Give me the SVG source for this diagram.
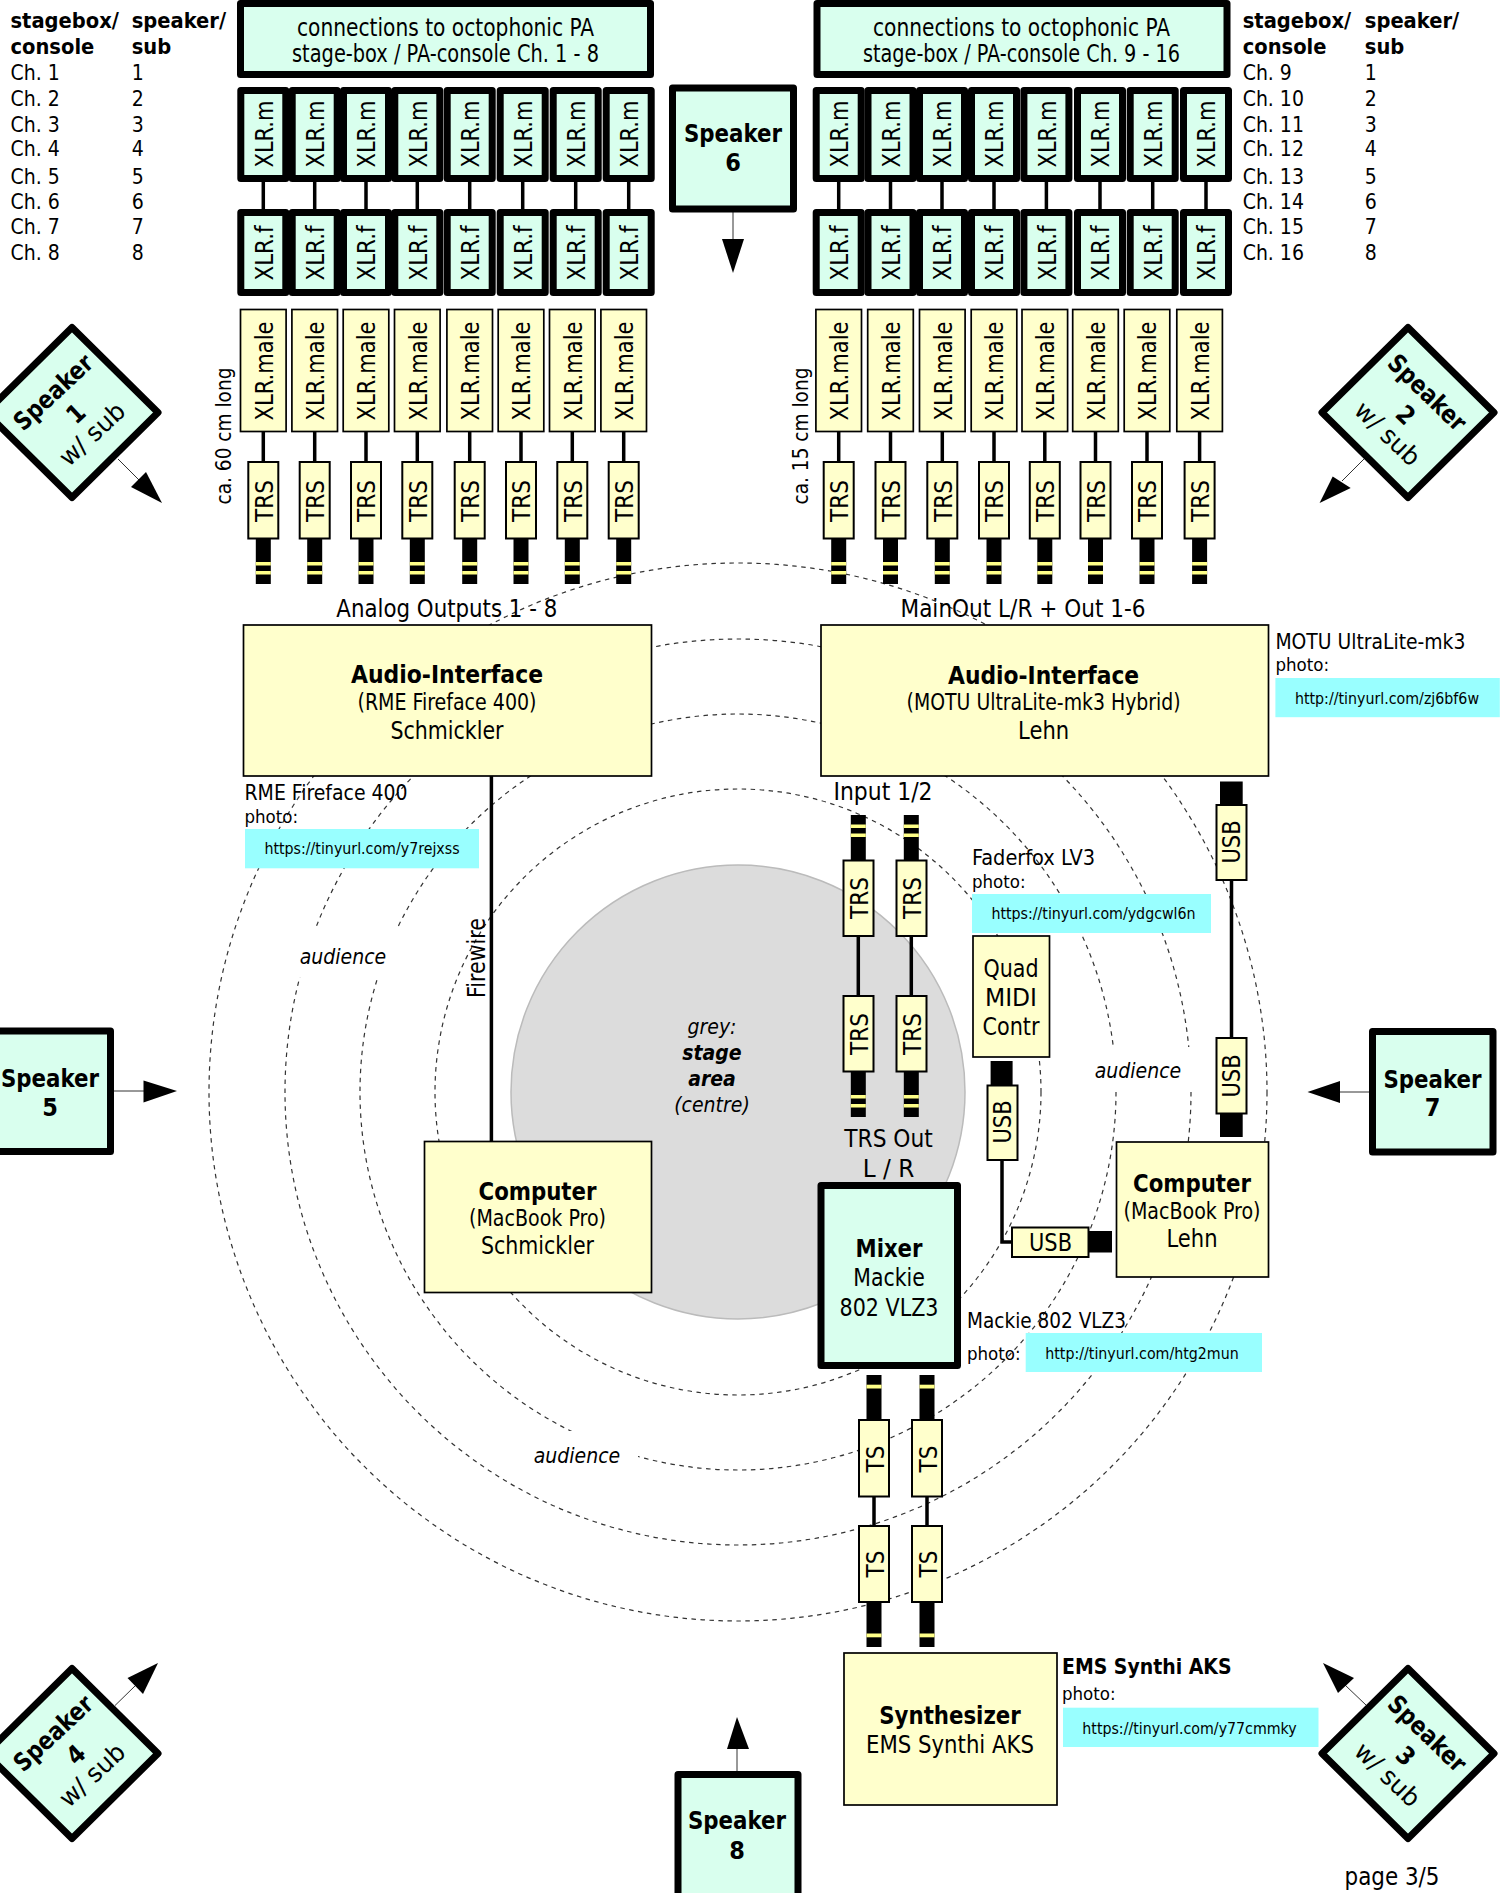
<svg xmlns="http://www.w3.org/2000/svg" width="1500" height="1893" viewBox="0 0 1500 1893">
<style>
text{font-family:"DejaVu Sans Condensed","DejaVu Sans",sans-serif;font-stretch:condensed;font-size:25px;fill:#000;lengthAdjust:spacingAndGlyphs}
.m{text-anchor:middle}
.b{font-weight:bold}
.i{font-style:italic}
.s{font-size:21px}
.sb{font-size:21.7px;font-weight:bold}
.q{font-size:23px}
.a2{font-size:21px;font-style:italic;text-anchor:middle}
.p{font-size:18.5px}
.u{font-size:15.8px;text-anchor:middle}
.k{fill:#D9FFEE;stroke:#000;stroke-width:7;stroke-linejoin:round}
.y{fill:#FFFFCC;stroke:#000;stroke-width:1.7}
.z{fill:#FFFFCC;stroke:#000;stroke-width:2}
.c{fill:#99FFFF}
.w{stroke:#000;stroke-width:3.5;fill:none}
.r{fill:none;stroke:#333;stroke-width:1.2;stroke-dasharray:4.5 4.5}
.a{stroke:#333;stroke-width:1;fill:none}
</style>
<defs>
<g id="trs"><rect x="-7.500" y="0" width="15" height="45" fill="#000"/><rect x="-7.500" y="23" width="15" height="3.500" fill="#FFFF88"/><rect x="-7.500" y="32" width="15" height="3.500" fill="#FFFF88"/></g>
<g id="ts"><rect x="-7.500" y="0" width="15" height="45" fill="#000"/><rect x="-7.500" y="31.500" width="15" height="3.800" fill="#FFFF88"/></g>
</defs>
<rect width="1500" height="1893" fill="#fff"/>
<g id="stage">
<circle cx="738" cy="1092" r="227" fill="#DCDCDC" stroke="#BBBBBB" stroke-width="1.5"/>
<circle class="r" cx="738" cy="1092" r="303"/>
<circle class="r" cx="738" cy="1092" r="378"/>
<circle class="r" cx="738" cy="1092" r="453"/>
<circle class="r" cx="738" cy="1092" r="529"/>
<rect x="295" y="929" width="105" height="48" fill="#fff"/>
<rect x="1110" y="1047" width="87" height="45" fill="#fff"/>
<rect x="525" y="1431" width="113" height="49" fill="#fff"/>
<text class="a2" x="343" y="964">audience</text>
<text class="a2" x="1138" y="1078">audience</text>
<text class="a2" x="577" y="1463">audience</text>
<text class="i m s" x="712" y="1034">grey:</text>
<text class="i b m s" x="712" y="1060">stage</text>
<text class="i b m s" x="712" y="1086">area</text>
<text class="i m s" x="712" y="1112">(centre)</text>
</g>
<g id="connectors">
<path class="w" d="M263.300 182V209M314.700 182V209M366 182V209M417.300 182V209M469.700 182V209M522.700 182V209M575.700 182V209M628.700 182V209"/>
<path class="w" d="M838.700 182V209M890.500 182V209M942 182V209M994 182V209M1046.400 182V209M1100 182V209M1152.700 182V209M1206 182V209"/>
<path class="w" d="M263.300 432V462M314.700 432V462M366 432V462M417.300 432V462M469.700 432V462M521 432V462M572.300 432V462M623.700 432V462"/>
<path class="w" d="M838.700 432V462M890.500 432V462M942.300 432V462M994 432V462M1044.800 432V462M1095.500 432V462M1147 432V462M1199.600 432V462"/>
<path class="w" d="M491.400 776V1141"/>
<path class="w" d="M858.300 936V996M911.300 936V996"/>
<path class="w" d="M1002 1160V1242H1012"/>
<path class="w" d="M1231.500 880V1038"/>
<path class="w" d="M874 1497V1526M927 1497V1526"/>
<g id="plugs">
<use href="#trs" x="263.300" y="539"/><use href="#trs" x="314.700" y="539"/><use href="#trs" x="366" y="539"/><use href="#trs" x="417.300" y="539"/><use href="#trs" x="469.700" y="539"/><use href="#trs" x="521" y="539"/><use href="#trs" x="572.300" y="539"/><use href="#trs" x="623.700" y="539"/>
<use href="#trs" x="838.700" y="539"/><use href="#trs" x="890.500" y="539"/><use href="#trs" x="942.300" y="539"/><use href="#trs" x="994" y="539"/><use href="#trs" x="1044.800" y="539"/><use href="#trs" x="1095.500" y="539"/><use href="#trs" x="1147" y="539"/><use href="#trs" x="1199.600" y="539"/>
<use href="#trs" transform="translate(858.300 860) scale(1 -1)"/><use href="#trs" transform="translate(911.300 860) scale(1 -1)"/>
<use href="#trs" x="858.300" y="1072"/><use href="#trs" x="911.300" y="1072"/>
<use href="#ts" transform="translate(874 1420) scale(1 -1)"/><use href="#ts" transform="translate(927 1420) scale(1 -1)"/>
<use href="#ts" x="874" y="1602"/><use href="#ts" x="927" y="1602"/>
<rect x="990.600" y="1061" width="22" height="25" fill="#000"/>
<rect x="1088" y="1231" width="24" height="21.500" fill="#000"/>
<rect x="1220" y="781.500" width="22.700" height="24" fill="#000"/>
<rect x="1220" y="1113" width="22.700" height="24" fill="#000"/>
</g>
<path class="a" d="M118 459L140 481M733 212V240M114 1091H144M1369 1092H1340M1364 459L1342 481M1366.500 1705.500L1345 1685M115 1705.500L136 1685M737 1771V1749"/>
<path d="M162 503L146 472L131 487Z"/>
<path d="M733 273L722 239H744Z"/>
<path d="M177 1091L143.500 1080.500V1102.500Z"/>
<path d="M1307.500 1092L1340 1081V1103Z"/>
<path d="M1319.600 503L1332.700 476.500L1350.700 488Z"/>
<path d="M1323 1663L1354 1678L1338 1693Z"/>
<path d="M158 1663L127.500 1678L143 1694Z"/>
<path d="M737 1717L727 1749H749Z"/>
</g>
<g id="top-left"><rect class="k" x="240.500" y="3.500" width="410" height="71"/><text class="m" x="445.500" y="35.500" textLength="297" lengthAdjust="spacingAndGlyphs">connections to octophonic PA</text><text class="m" x="445.500" y="61.500" textLength="307" lengthAdjust="spacingAndGlyphs">stage-box / PA-console Ch. 1 - 8</text></g>
<g id="top-right"><rect class="k" x="817" y="3.500" width="410" height="71"/><text class="m" x="1021.500" y="35.500" textLength="297" lengthAdjust="spacingAndGlyphs">connections to octophonic PA</text><text class="m" x="1021.500" y="61.500" textLength="317" lengthAdjust="spacingAndGlyphs">stage-box / PA-console Ch. 9 - 16</text></g>
<g id="table-left">
<text class="sb" x="10.500" y="27.500">stagebox/</text><text class="sb" x="10.500" y="53.500">console</text>
<text class="s" x="10.500" y="79.500">Ch. 1</text><text class="s" x="10.500" y="105.500">Ch. 2</text><text class="s" x="10.500" y="131.500">Ch. 3</text><text class="s" x="10.500" y="156">Ch. 4</text><text class="s" x="10.500" y="183.500">Ch. 5</text><text class="s" x="10.500" y="208.500">Ch. 6</text><text class="s" x="10.500" y="234">Ch. 7</text><text class="s" x="10.500" y="260">Ch. 8</text>
<text class="sb" x="131.700" y="27.500">speaker/</text><text class="sb" x="131.700" y="53.500">sub</text>
<text class="s" x="131.700" y="79.500">1</text><text class="s" x="131.700" y="105.500">2</text><text class="s" x="131.700" y="131.500">3</text><text class="s" x="131.700" y="156">4</text><text class="s" x="131.700" y="183.500">5</text><text class="s" x="131.700" y="208.500">6</text><text class="s" x="131.700" y="234">7</text><text class="s" x="131.700" y="260">8</text>
</g>
<g id="table-right">
<text class="sb" x="1242.700" y="27.500">stagebox/</text><text class="sb" x="1242.700" y="53.500">console</text>
<text class="s" x="1242.700" y="79.500">Ch. 9</text><text class="s" x="1242.700" y="105.500">Ch. 10</text><text class="s" x="1242.700" y="131.500">Ch. 11</text><text class="s" x="1242.700" y="156">Ch. 12</text><text class="s" x="1242.700" y="183.500">Ch. 13</text><text class="s" x="1242.700" y="208.500">Ch. 14</text><text class="s" x="1242.700" y="234">Ch. 15</text><text class="s" x="1242.700" y="260">Ch. 16</text>
<text class="sb" x="1364.800" y="27.500">speaker/</text><text class="sb" x="1364.800" y="53.500">sub</text>
<text class="s" x="1364.800" y="79.500">1</text><text class="s" x="1364.800" y="105.500">2</text><text class="s" x="1364.800" y="131.500">3</text><text class="s" x="1364.800" y="156">4</text><text class="s" x="1364.800" y="183.500">5</text><text class="s" x="1364.800" y="208.500">6</text><text class="s" x="1364.800" y="234">7</text><text class="s" x="1364.800" y="260">8</text>
</g>
<g id="xlr-m-left">
<rect class="k" x="240.800" y="90.500" width="45" height="88"/><text class="m" textLength="67" lengthAdjust="spacingAndGlyphs" transform="translate(272.500 134) rotate(-90)">XLR.m</text>
<rect class="k" x="292.200" y="90.500" width="45" height="88"/><text class="m" textLength="67" lengthAdjust="spacingAndGlyphs" transform="translate(323.900 134) rotate(-90)">XLR.m</text>
<rect class="k" x="343.500" y="90.500" width="45" height="88"/><text class="m" textLength="67" lengthAdjust="spacingAndGlyphs" transform="translate(375.200 134) rotate(-90)">XLR.m</text>
<rect class="k" x="394.800" y="90.500" width="45" height="88"/><text class="m" textLength="67" lengthAdjust="spacingAndGlyphs" transform="translate(426.500 134) rotate(-90)">XLR.m</text>
<rect class="k" x="447.200" y="90.500" width="45" height="88"/><text class="m" textLength="67" lengthAdjust="spacingAndGlyphs" transform="translate(479 134) rotate(-90)">XLR.m</text>
<rect class="k" x="500.200" y="90.500" width="45" height="88"/><text class="m" textLength="67" lengthAdjust="spacingAndGlyphs" transform="translate(532 134) rotate(-90)">XLR.m</text>
<rect class="k" x="553.200" y="90.500" width="45" height="88"/><text class="m" textLength="67" lengthAdjust="spacingAndGlyphs" transform="translate(585 134) rotate(-90)">XLR.m</text>
<rect class="k" x="606.200" y="90.500" width="45" height="88"/><text class="m" textLength="67" lengthAdjust="spacingAndGlyphs" transform="translate(638 134) rotate(-90)">XLR.m</text>
</g>
<g id="xlr-f-left">
<rect class="k" x="240.800" y="212.500" width="45" height="80"/><text class="m" textLength="55" lengthAdjust="spacingAndGlyphs" transform="translate(272.500 253) rotate(-90)">XLR.f</text>
<rect class="k" x="292.200" y="212.500" width="45" height="80"/><text class="m" textLength="55" lengthAdjust="spacingAndGlyphs" transform="translate(323.900 253) rotate(-90)">XLR.f</text>
<rect class="k" x="343.500" y="212.500" width="45" height="80"/><text class="m" textLength="55" lengthAdjust="spacingAndGlyphs" transform="translate(375.200 253) rotate(-90)">XLR.f</text>
<rect class="k" x="394.800" y="212.500" width="45" height="80"/><text class="m" textLength="55" lengthAdjust="spacingAndGlyphs" transform="translate(426.500 253) rotate(-90)">XLR.f</text>
<rect class="k" x="447.200" y="212.500" width="45" height="80"/><text class="m" textLength="55" lengthAdjust="spacingAndGlyphs" transform="translate(479 253) rotate(-90)">XLR.f</text>
<rect class="k" x="500.200" y="212.500" width="45" height="80"/><text class="m" textLength="55" lengthAdjust="spacingAndGlyphs" transform="translate(532 253) rotate(-90)">XLR.f</text>
<rect class="k" x="553.200" y="212.500" width="45" height="80"/><text class="m" textLength="55" lengthAdjust="spacingAndGlyphs" transform="translate(585 253) rotate(-90)">XLR.f</text>
<rect class="k" x="606.200" y="212.500" width="45" height="80"/><text class="m" textLength="55" lengthAdjust="spacingAndGlyphs" transform="translate(638 253) rotate(-90)">XLR.f</text>
</g>
<g id="xlr-m-right">
<rect class="k" x="816.200" y="90.500" width="45" height="88"/><text class="m" textLength="67" lengthAdjust="spacingAndGlyphs" transform="translate(848 134) rotate(-90)">XLR.m</text>
<rect class="k" x="868" y="90.500" width="45" height="88"/><text class="m" textLength="67" lengthAdjust="spacingAndGlyphs" transform="translate(899.800 134) rotate(-90)">XLR.m</text>
<rect class="k" x="919.500" y="90.500" width="45" height="88"/><text class="m" textLength="67" lengthAdjust="spacingAndGlyphs" transform="translate(951.300 134) rotate(-90)">XLR.m</text>
<rect class="k" x="971.500" y="90.500" width="45" height="88"/><text class="m" textLength="67" lengthAdjust="spacingAndGlyphs" transform="translate(1003.300 134) rotate(-90)">XLR.m</text>
<rect class="k" x="1023.900" y="90.500" width="45" height="88"/><text class="m" textLength="67" lengthAdjust="spacingAndGlyphs" transform="translate(1055.700 134) rotate(-90)">XLR.m</text>
<rect class="k" x="1077.500" y="90.500" width="45" height="88"/><text class="m" textLength="67" lengthAdjust="spacingAndGlyphs" transform="translate(1109.300 134) rotate(-90)">XLR.m</text>
<rect class="k" x="1130.200" y="90.500" width="45" height="88"/><text class="m" textLength="67" lengthAdjust="spacingAndGlyphs" transform="translate(1162 134) rotate(-90)">XLR.m</text>
<rect class="k" x="1183.500" y="90.500" width="45" height="88"/><text class="m" textLength="67" lengthAdjust="spacingAndGlyphs" transform="translate(1215.300 134) rotate(-90)">XLR.m</text>
</g>
<g id="xlr-f-right">
<rect class="k" x="816.200" y="212.500" width="45" height="80"/><text class="m" textLength="55" lengthAdjust="spacingAndGlyphs" transform="translate(848 253) rotate(-90)">XLR.f</text>
<rect class="k" x="868" y="212.500" width="45" height="80"/><text class="m" textLength="55" lengthAdjust="spacingAndGlyphs" transform="translate(899.800 253) rotate(-90)">XLR.f</text>
<rect class="k" x="919.500" y="212.500" width="45" height="80"/><text class="m" textLength="55" lengthAdjust="spacingAndGlyphs" transform="translate(951.300 253) rotate(-90)">XLR.f</text>
<rect class="k" x="971.500" y="212.500" width="45" height="80"/><text class="m" textLength="55" lengthAdjust="spacingAndGlyphs" transform="translate(1003.300 253) rotate(-90)">XLR.f</text>
<rect class="k" x="1023.900" y="212.500" width="45" height="80"/><text class="m" textLength="55" lengthAdjust="spacingAndGlyphs" transform="translate(1055.700 253) rotate(-90)">XLR.f</text>
<rect class="k" x="1077.500" y="212.500" width="45" height="80"/><text class="m" textLength="55" lengthAdjust="spacingAndGlyphs" transform="translate(1109.300 253) rotate(-90)">XLR.f</text>
<rect class="k" x="1130.200" y="212.500" width="45" height="80"/><text class="m" textLength="55" lengthAdjust="spacingAndGlyphs" transform="translate(1162 253) rotate(-90)">XLR.f</text>
<rect class="k" x="1183.500" y="212.500" width="45" height="80"/><text class="m" textLength="55" lengthAdjust="spacingAndGlyphs" transform="translate(1215.300 253) rotate(-90)">XLR.f</text>
</g>
<g id="male-left">
<rect class="y" x="240.500" y="309.500" width="45.600" height="122"/><text class="m" textLength="99" lengthAdjust="spacingAndGlyphs" transform="translate(272.500 371) rotate(-90)">XLR.male</text>
<rect class="y" x="291.900" y="309.500" width="45.600" height="122"/><text class="m" textLength="99" lengthAdjust="spacingAndGlyphs" transform="translate(323.900 371) rotate(-90)">XLR.male</text>
<rect class="y" x="343.200" y="309.500" width="45.600" height="122"/><text class="m" textLength="99" lengthAdjust="spacingAndGlyphs" transform="translate(375.200 371) rotate(-90)">XLR.male</text>
<rect class="y" x="394.500" y="309.500" width="45.600" height="122"/><text class="m" textLength="99" lengthAdjust="spacingAndGlyphs" transform="translate(426.500 371) rotate(-90)">XLR.male</text>
<rect class="y" x="446.900" y="309.500" width="45.600" height="122"/><text class="m" textLength="99" lengthAdjust="spacingAndGlyphs" transform="translate(479 371) rotate(-90)">XLR.male</text>
<rect class="y" x="498.200" y="309.500" width="45.600" height="122"/><text class="m" textLength="99" lengthAdjust="spacingAndGlyphs" transform="translate(530.300 371) rotate(-90)">XLR.male</text>
<rect class="y" x="549.500" y="309.500" width="45.600" height="122"/><text class="m" textLength="99" lengthAdjust="spacingAndGlyphs" transform="translate(581.600 371) rotate(-90)">XLR.male</text>
<rect class="y" x="600.900" y="309.500" width="45.600" height="122"/><text class="m" textLength="99" lengthAdjust="spacingAndGlyphs" transform="translate(633 371) rotate(-90)">XLR.male</text>
</g>
<g id="trs-left">
<rect class="z" x="248.300" y="462" width="30" height="76.500"/><text class="m" textLength="42" lengthAdjust="spacingAndGlyphs" transform="translate(272.500 501) rotate(-90)">TRS</text>
<rect class="z" x="299.700" y="462" width="30" height="76.500"/><text class="m" textLength="42" lengthAdjust="spacingAndGlyphs" transform="translate(323.900 501) rotate(-90)">TRS</text>
<rect class="z" x="351" y="462" width="30" height="76.500"/><text class="m" textLength="42" lengthAdjust="spacingAndGlyphs" transform="translate(375.200 501) rotate(-90)">TRS</text>
<rect class="z" x="402.300" y="462" width="30" height="76.500"/><text class="m" textLength="42" lengthAdjust="spacingAndGlyphs" transform="translate(426.500 501) rotate(-90)">TRS</text>
<rect class="z" x="454.700" y="462" width="30" height="76.500"/><text class="m" textLength="42" lengthAdjust="spacingAndGlyphs" transform="translate(479 501) rotate(-90)">TRS</text>
<rect class="z" x="506" y="462" width="30" height="76.500"/><text class="m" textLength="42" lengthAdjust="spacingAndGlyphs" transform="translate(530.300 501) rotate(-90)">TRS</text>
<rect class="z" x="557.300" y="462" width="30" height="76.500"/><text class="m" textLength="42" lengthAdjust="spacingAndGlyphs" transform="translate(581.600 501) rotate(-90)">TRS</text>
<rect class="z" x="608.700" y="462" width="30" height="76.500"/><text class="m" textLength="42" lengthAdjust="spacingAndGlyphs" transform="translate(633 501) rotate(-90)">TRS</text>
</g>
<g id="male-right">
<rect class="y" x="815.900" y="309.500" width="45.600" height="122"/><text class="m" textLength="99" lengthAdjust="spacingAndGlyphs" transform="translate(848 371) rotate(-90)">XLR.male</text>
<rect class="y" x="867.700" y="309.500" width="45.600" height="122"/><text class="m" textLength="99" lengthAdjust="spacingAndGlyphs" transform="translate(899.800 371) rotate(-90)">XLR.male</text>
<rect class="y" x="919.500" y="309.500" width="45.600" height="122"/><text class="m" textLength="99" lengthAdjust="spacingAndGlyphs" transform="translate(951.600 371) rotate(-90)">XLR.male</text>
<rect class="y" x="971.200" y="309.500" width="45.600" height="122"/><text class="m" textLength="99" lengthAdjust="spacingAndGlyphs" transform="translate(1003.300 371) rotate(-90)">XLR.male</text>
<rect class="y" x="1022" y="309.500" width="45.600" height="122"/><text class="m" textLength="99" lengthAdjust="spacingAndGlyphs" transform="translate(1054.100 371) rotate(-90)">XLR.male</text>
<rect class="y" x="1072.700" y="309.500" width="45.600" height="122"/><text class="m" textLength="99" lengthAdjust="spacingAndGlyphs" transform="translate(1104.800 371) rotate(-90)">XLR.male</text>
<rect class="y" x="1124.200" y="309.500" width="45.600" height="122"/><text class="m" textLength="99" lengthAdjust="spacingAndGlyphs" transform="translate(1156.300 371) rotate(-90)">XLR.male</text>
<rect class="y" x="1176.800" y="309.500" width="45.600" height="122"/><text class="m" textLength="99" lengthAdjust="spacingAndGlyphs" transform="translate(1208.900 371) rotate(-90)">XLR.male</text>
</g>
<g id="trs-right">
<rect class="z" x="823.700" y="462" width="30" height="76.500"/><text class="m" textLength="42" lengthAdjust="spacingAndGlyphs" transform="translate(848 501) rotate(-90)">TRS</text>
<rect class="z" x="875.500" y="462" width="30" height="76.500"/><text class="m" textLength="42" lengthAdjust="spacingAndGlyphs" transform="translate(899.800 501) rotate(-90)">TRS</text>
<rect class="z" x="927.300" y="462" width="30" height="76.500"/><text class="m" textLength="42" lengthAdjust="spacingAndGlyphs" transform="translate(951.600 501) rotate(-90)">TRS</text>
<rect class="z" x="979" y="462" width="30" height="76.500"/><text class="m" textLength="42" lengthAdjust="spacingAndGlyphs" transform="translate(1003.300 501) rotate(-90)">TRS</text>
<rect class="z" x="1029.800" y="462" width="30" height="76.500"/><text class="m" textLength="42" lengthAdjust="spacingAndGlyphs" transform="translate(1054.100 501) rotate(-90)">TRS</text>
<rect class="z" x="1080.500" y="462" width="30" height="76.500"/><text class="m" textLength="42" lengthAdjust="spacingAndGlyphs" transform="translate(1104.800 501) rotate(-90)">TRS</text>
<rect class="z" x="1132" y="462" width="30" height="76.500"/><text class="m" textLength="42" lengthAdjust="spacingAndGlyphs" transform="translate(1156.300 501) rotate(-90)">TRS</text>
<rect class="z" x="1184.600" y="462" width="30" height="76.500"/><text class="m" textLength="42" lengthAdjust="spacingAndGlyphs" transform="translate(1208.900 501) rotate(-90)">TRS</text>
</g>
<g id="lengths">
<text class="m" textLength="137" lengthAdjust="spacingAndGlyphs" style="font-size:22px" transform="translate(230.700 436) rotate(-90)">ca. 60 cm long</text>
<text class="m" textLength="137" lengthAdjust="spacingAndGlyphs" style="font-size:22px" transform="translate(807.600 436) rotate(-90)">ca. 15 cm long</text>
</g>
<g id="speaker-6"><rect class="k" x="672.500" y="88" width="121" height="121"/><text class="b m" x="733" y="142" textLength="98" lengthAdjust="spacingAndGlyphs">Speaker</text><text class="b m" x="733" y="171">6</text></g>
<g id="speaker-5"><rect class="k" x="-10" y="1031" width="120.500" height="120.500"/><text class="b m" x="50" y="1087" textLength="98" lengthAdjust="spacingAndGlyphs">Speaker</text><text class="b m" x="50" y="1116">5</text></g>
<g id="speaker-7"><rect class="k" x="1372.500" y="1031.500" width="120.500" height="120.500"/><text class="b m" x="1432.500" y="1087.500" textLength="98" lengthAdjust="spacingAndGlyphs">Speaker</text><text class="b m" x="1432.500" y="1116">7</text></g>
<g id="speaker-8"><rect class="k" x="678" y="1774.500" width="120" height="130"/><text class="b m" x="737" y="1829" textLength="98" lengthAdjust="spacingAndGlyphs">Speaker</text><text class="b m" x="737" y="1859">8</text></g>
<g id="speaker-1" transform="translate(72 412.500)"><path class="k" d="M0 -85L86 0L0 85L-86 0Z"/><g transform="rotate(-43)"><text class="b m" y="-19" textLength="98" lengthAdjust="spacingAndGlyphs">Speaker</text><text class="b m" y="12" x="2">1</text><text class="m" y="38" textLength="80" lengthAdjust="spacingAndGlyphs">w/ sub</text></g></g>
<g id="speaker-2" transform="translate(1408 412.500)"><path class="k" d="M0 -85L86 0L0 85L-86 0Z"/><g transform="rotate(44)"><text class="b m" y="-19" textLength="98" lengthAdjust="spacingAndGlyphs">Speaker</text><text class="b m" y="12">2</text><text class="m" y="38" textLength="80" lengthAdjust="spacingAndGlyphs">w/ sub</text></g></g>
<g id="speaker-3" transform="translate(1408 1753.500)"><path class="k" d="M0 -85L86 0L0 85L-86 0Z"/><g transform="rotate(44)"><text class="b m" y="-19" textLength="98" lengthAdjust="spacingAndGlyphs">Speaker</text><text class="b m" y="12">3</text><text class="m" y="38" textLength="80" lengthAdjust="spacingAndGlyphs">w/ sub</text></g></g>
<g id="speaker-4" transform="translate(72 1753.500)"><path class="k" d="M0 -85L86 0L0 85L-86 0Z"/><g transform="rotate(-43)"><text class="b m" y="-19" textLength="98" lengthAdjust="spacingAndGlyphs">Speaker</text><text class="b m" y="12" x="2">4</text><text class="m" y="38" textLength="80" lengthAdjust="spacingAndGlyphs">w/ sub</text></g></g>
<g id="audio-left"><rect class="y" x="243.500" y="625" width="408" height="151"/><text class="b m" x="447" y="683" textLength="192" lengthAdjust="spacingAndGlyphs">Audio-Interface</text><text class="m q" x="447" y="709.500" textLength="179" lengthAdjust="spacingAndGlyphs">(RME Fireface 400)</text><text class="m" x="447" y="738.500" textLength="113" lengthAdjust="spacingAndGlyphs">Schmickler</text></g>
<g id="audio-right"><rect class="y" x="821" y="625" width="447.500" height="151"/><text class="b m" x="1043.600" y="683.500" textLength="191" lengthAdjust="spacingAndGlyphs">Audio-Interface</text><text class="m q" x="1043.600" y="710" textLength="274" lengthAdjust="spacingAndGlyphs">(MOTU UltraLite-mk3 Hybrid)</text><text class="m" x="1043.600" y="738.500" textLength="51" lengthAdjust="spacingAndGlyphs">Lehn</text></g>
<g id="computer-left"><rect class="y" x="424.500" y="1141.500" width="227" height="151"/><text class="b m" x="537.500" y="1200" textLength="118" lengthAdjust="spacingAndGlyphs">Computer</text><text class="m q" x="537.500" y="1226" textLength="137" lengthAdjust="spacingAndGlyphs">(MacBook Pro)</text><text class="m" x="537.500" y="1254" textLength="113" lengthAdjust="spacingAndGlyphs">Schmickler</text></g>
<g id="computer-right"><rect class="y" x="1116.500" y="1142" width="152" height="135"/><text class="b m" x="1192" y="1192" textLength="118" lengthAdjust="spacingAndGlyphs">Computer</text><text class="m q" x="1192" y="1219" textLength="137" lengthAdjust="spacingAndGlyphs">(MacBook Pro)</text><text class="m" x="1192" y="1247" textLength="51" lengthAdjust="spacingAndGlyphs">Lehn</text></g>
<g id="mixer"><rect class="k" x="821" y="1185.500" width="136.500" height="180"/><text class="b m" x="889" y="1257" textLength="67" lengthAdjust="spacingAndGlyphs">Mixer</text><text class="m" x="889" y="1285.500" textLength="71.500" lengthAdjust="spacingAndGlyphs">Mackie</text><text class="m" x="889" y="1315.500" textLength="99" lengthAdjust="spacingAndGlyphs">802 VLZ3</text></g>
<g id="synth"><rect class="y" x="844" y="1653" width="213" height="152"/><text class="b m" x="950" y="1723.500" textLength="141.500" lengthAdjust="spacingAndGlyphs">Synthesizer</text><text class="m" x="950" y="1752.500" textLength="168" lengthAdjust="spacingAndGlyphs">EMS Synthi AKS</text></g>
<g id="quad-midi"><rect class="y" x="973" y="936" width="76.500" height="121"/><text class="m" x="1011" y="977" textLength="55" lengthAdjust="spacingAndGlyphs">Quad</text><text class="m" x="1011" y="1006" textLength="52" lengthAdjust="spacingAndGlyphs">MIDI</text><text class="m" x="1011" y="1035" textLength="57" lengthAdjust="spacingAndGlyphs">Contr</text></g>
<g id="trs-in-1a"><rect class="z" x="843.500" y="860.500" width="30" height="75.500"/><text class="m" textLength="42" lengthAdjust="spacingAndGlyphs" transform="translate(868 898) rotate(-90)">TRS</text></g>
<g id="trs-in-2a"><rect class="z" x="896.500" y="860.500" width="30" height="75.500"/><text class="m" textLength="42" lengthAdjust="spacingAndGlyphs" transform="translate(921 898) rotate(-90)">TRS</text></g>
<g id="trs-in-1b"><rect class="z" x="843.500" y="996" width="30" height="75.500"/><text class="m" textLength="42" lengthAdjust="spacingAndGlyphs" transform="translate(868 1034) rotate(-90)">TRS</text></g>
<g id="trs-in-2b"><rect class="z" x="896.500" y="996" width="30" height="75.500"/><text class="m" textLength="42" lengthAdjust="spacingAndGlyphs" transform="translate(921 1034) rotate(-90)">TRS</text></g>
<g id="ts-1a"><rect class="z" x="859" y="1420" width="30" height="76.500"/><text class="m" textLength="27" lengthAdjust="spacingAndGlyphs" transform="translate(884 1459) rotate(-90)">TS</text></g>
<g id="ts-2a"><rect class="z" x="912" y="1420" width="30" height="76.500"/><text class="m" textLength="27" lengthAdjust="spacingAndGlyphs" transform="translate(937 1459) rotate(-90)">TS</text></g>
<g id="ts-1b"><rect class="z" x="859" y="1526" width="30" height="76"/><text class="m" textLength="27" lengthAdjust="spacingAndGlyphs" transform="translate(884 1564) rotate(-90)">TS</text></g>
<g id="ts-2b"><rect class="z" x="912" y="1526" width="30" height="76"/><text class="m" textLength="27" lengthAdjust="spacingAndGlyphs" transform="translate(937 1564) rotate(-90)">TS</text></g>
<g id="usb-1"><rect class="z" x="987.500" y="1085.500" width="30" height="74.500"/><text class="m" textLength="43" lengthAdjust="spacingAndGlyphs" transform="translate(1010.500 1122) rotate(-90)">USB</text></g>
<g id="usb-2"><rect class="z" x="1012" y="1227.500" width="76.500" height="29.500"/><text class="m" x="1050.500" y="1251" textLength="43" lengthAdjust="spacingAndGlyphs">USB</text></g>
<g id="usb-3"><rect class="z" x="1216.500" y="805" width="30" height="75"/><text class="m" textLength="43" lengthAdjust="spacingAndGlyphs" transform="translate(1240 842) rotate(-90)">USB</text></g>
<g id="usb-4"><rect class="z" x="1216.500" y="1038" width="30" height="75.500"/><text class="m" textLength="43" lengthAdjust="spacingAndGlyphs" transform="translate(1240 1076) rotate(-90)">USB</text></g>
<g id="labels">
<text class="m" x="446.800" y="616.700" textLength="221" lengthAdjust="spacingAndGlyphs">Analog Outputs 1 - 8</text>
<text class="m" x="1023" y="616.700" textLength="245" lengthAdjust="spacingAndGlyphs">MainOut L/R + Out 1-6</text>
<text class="m" x="883" y="800" textLength="99" lengthAdjust="spacingAndGlyphs">Input 1/2</text>
<text class="m" x="888.500" y="1147" textLength="88.500" lengthAdjust="spacingAndGlyphs">TRS Out</text>
<text class="m" x="888.500" y="1177" textLength="51.500" lengthAdjust="spacingAndGlyphs">L / R</text>
<text class="m" textLength="80" lengthAdjust="spacingAndGlyphs" transform="translate(484.700 958) rotate(-90)">Firewire</text>
<text class="m" x="1392" y="1885" textLength="95" lengthAdjust="spacingAndGlyphs">page 3/5</text>
</g>
<g id="photo-rme"><text class="s" x="244.500" y="799.500" textLength="163" lengthAdjust="spacingAndGlyphs">RME Fireface 400</text><text class="p" x="244.500" y="823">photo:</text><rect class="c" x="245" y="829" width="234" height="39.300"/><text class="u" x="362" y="854">https://tinyurl.com/y7rejxss</text></g>
<g id="photo-motu"><text class="s" x="1275.400" y="649" textLength="190" lengthAdjust="spacingAndGlyphs">MOTU UltraLite-mk3</text><text class="p" x="1275.400" y="671">photo:</text><rect class="c" x="1275.400" y="678" width="224.400" height="39.200"/><text class="u" x="1387" y="703.500">http://tinyurl.com/zj6bf6w</text></g>
<g id="photo-faderfox"><text class="s" x="972" y="864.700" textLength="123" lengthAdjust="spacingAndGlyphs">Faderfox LV3</text><text class="p" x="972" y="887.600">photo:</text><rect class="c" x="972" y="894" width="239" height="39"/><text class="u" x="1093.500" y="919">https://tinyurl.com/ydgcwl6n</text></g>
<g id="photo-mackie"><text class="s" x="967" y="1328" textLength="159" lengthAdjust="spacingAndGlyphs">Mackie 802 VLZ3</text><text class="p" x="967" y="1359.800">photo:</text><rect class="c" x="1025.700" y="1333" width="236.300" height="39"/><text class="u" x="1142" y="1359">http://tinyurl.com/htg2mun</text></g>
<g id="photo-ems"><text class="b s" x="1062" y="1674.400" textLength="169.500" lengthAdjust="spacingAndGlyphs">EMS Synthi AKS</text><text class="p" x="1062" y="1700">photo:</text><rect class="c" x="1063" y="1707.700" width="255.500" height="39.300"/><text class="u" x="1189.500" y="1733.800">https://tinyurl.com/y77cmmky</text></g>
</svg>
